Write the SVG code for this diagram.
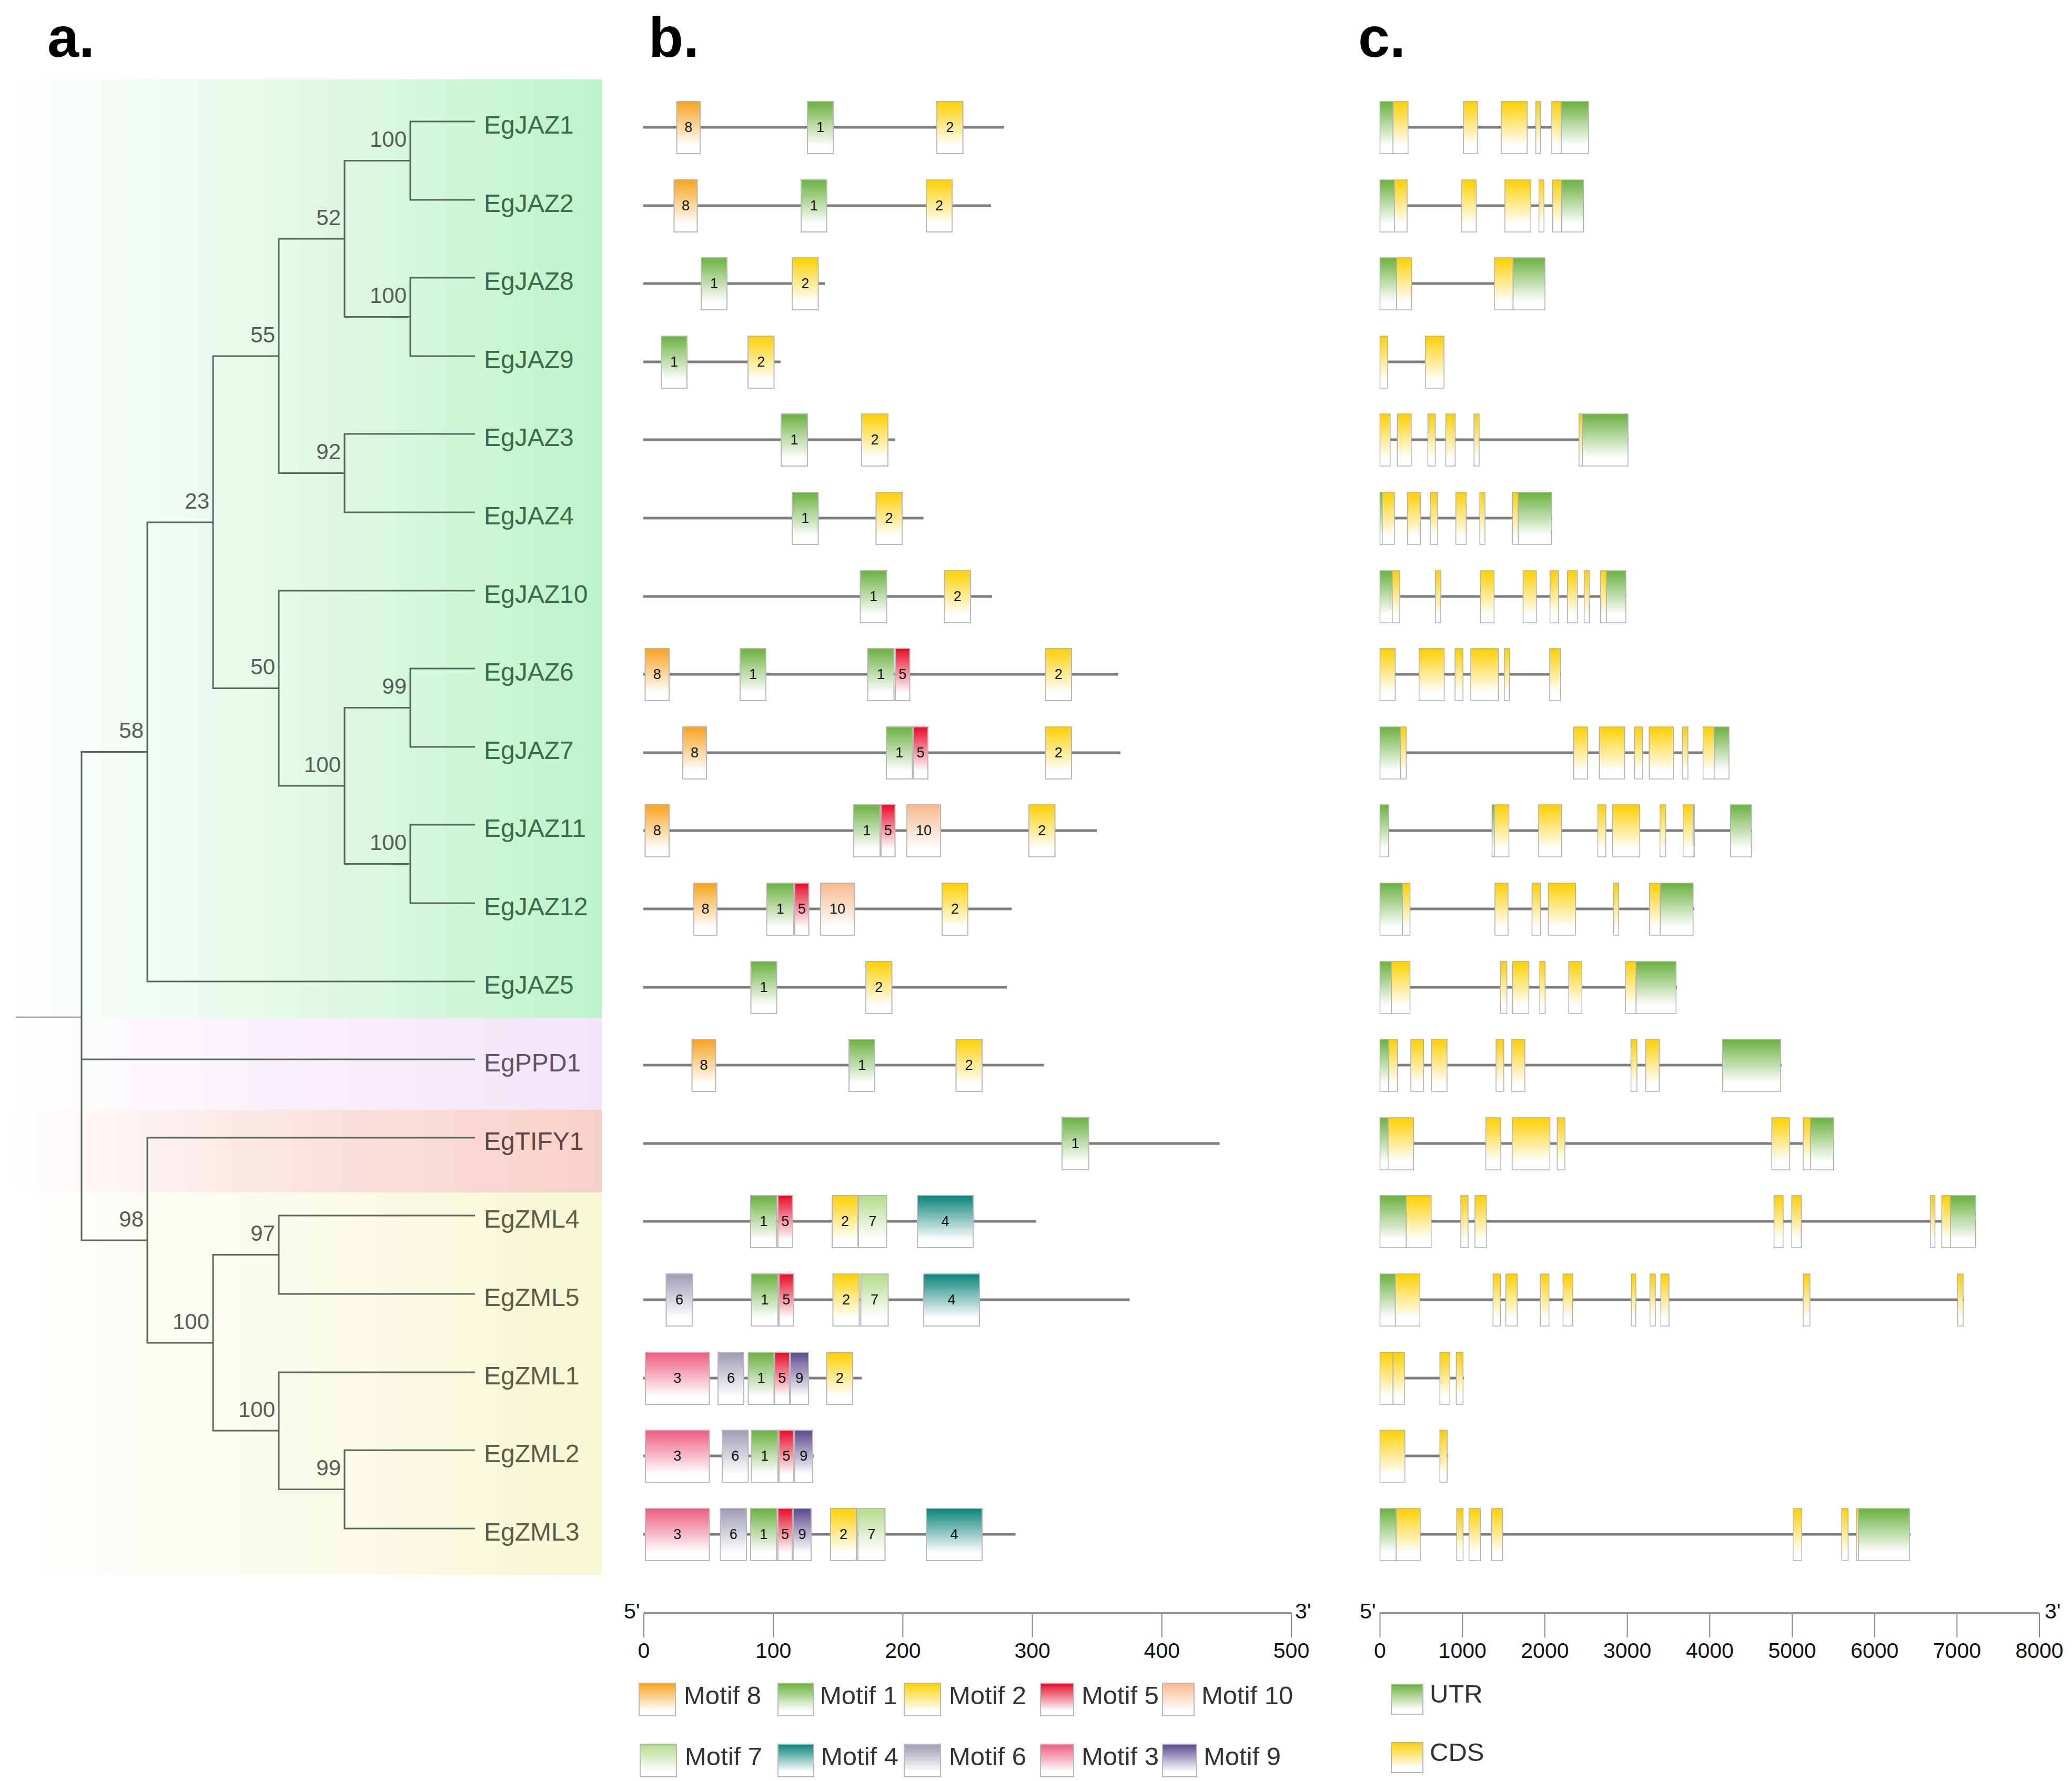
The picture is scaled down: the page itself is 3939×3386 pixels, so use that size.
<svg xmlns="http://www.w3.org/2000/svg" width="3939" height="3386" viewBox="0 0 3939 3386">
<style>
text{font-family:"Liberation Sans",Arial,sans-serif}
.pl{font-size:108px;font-weight:bold;fill:#000}
.lf{font-size:48px}
.gj{fill:#3c6b48}.gp{fill:#5d5468}.gt{fill:#5f4440}.gz{fill:#5d5d45}
.bs{font-size:42px;fill:#555d55;text-anchor:end}
.tr{fill:none;stroke:#56695b;stroke-width:3}
.ln{stroke:#7e7e7e;stroke-width:5}
.mb rect{stroke:#b8b8b8;stroke-width:2}
.gb rect{stroke:#b0b0b0;stroke-width:1.5}
.mt{font-size:27px;fill:#111;text-anchor:middle}
.m1{fill:url(#g1)}.m2{fill:url(#g2)}.m3{fill:url(#g3)}.m4{fill:url(#g4)}.m5{fill:url(#g5)}
.m6{fill:url(#g6)}.m7{fill:url(#g7)}.m8{fill:url(#g8)}.m9{fill:url(#g9)}.m10{fill:url(#g10)}
.u{fill:url(#g1)}.c{fill:url(#g2)}
.ax{stroke:#9a9a9a;stroke-width:4}
.tk{stroke:#888;stroke-width:2}
.tl{font-size:41px;fill:#111;text-anchor:middle}
.en{font-size:41px;fill:#111}
.lg{font-size:49px;fill:#333}
</style>
<defs>
<linearGradient id="g1" x1="0" y1="0" x2="0" y2="1"><stop offset="0" stop-color="#6ab23e"/><stop offset="0.85" stop-color="#fff"/></linearGradient>
<linearGradient id="g2" x1="0" y1="0" x2="0" y2="1"><stop offset="0" stop-color="#ffd000"/><stop offset="0.85" stop-color="#fff"/></linearGradient>
<linearGradient id="g3" x1="0" y1="0" x2="0" y2="1"><stop offset="0" stop-color="#ef5b80"/><stop offset="0.85" stop-color="#fff"/></linearGradient>
<linearGradient id="g4" x1="0" y1="0" x2="0" y2="1"><stop offset="0" stop-color="#08847a"/><stop offset="0.85" stop-color="#fff"/></linearGradient>
<linearGradient id="g5" x1="0" y1="0" x2="0" y2="1"><stop offset="0" stop-color="#ea0a28"/><stop offset="0.85" stop-color="#fff"/></linearGradient>
<linearGradient id="g6" x1="0" y1="0" x2="0" y2="1"><stop offset="0" stop-color="#9d9cb4"/><stop offset="0.85" stop-color="#fff"/></linearGradient>
<linearGradient id="g7" x1="0" y1="0" x2="0" y2="1"><stop offset="0" stop-color="#b5dc8c"/><stop offset="0.85" stop-color="#fff"/></linearGradient>
<linearGradient id="g8" x1="0" y1="0" x2="0" y2="1"><stop offset="0" stop-color="#f8a21c"/><stop offset="0.85" stop-color="#fff"/></linearGradient>
<linearGradient id="g9" x1="0" y1="0" x2="0" y2="1"><stop offset="0" stop-color="#5a4a8e"/><stop offset="0.85" stop-color="#fff"/></linearGradient>
<linearGradient id="g10" x1="0" y1="0" x2="0" y2="1"><stop offset="0" stop-color="#f9b98c"/><stop offset="0.85" stop-color="#fff"/></linearGradient>
<linearGradient id="bgG" x1="0" y1="0" x2="1" y2="0"><stop offset="0" stop-color="#ffffff"/><stop offset="0.5" stop-color="#e3f9e7"/><stop offset="1" stop-color="#bdf4ca"/></linearGradient>
<linearGradient id="bgP" x1="0" y1="0" x2="1" y2="0"><stop offset="0" stop-color="#ffffff"/><stop offset="0.5" stop-color="#f8f0fb"/><stop offset="1" stop-color="#f3e4f9"/></linearGradient>
<linearGradient id="bgR" x1="0" y1="0" x2="1" y2="0"><stop offset="0" stop-color="#ffffff"/><stop offset="0.5" stop-color="#fbe3e0"/><stop offset="1" stop-color="#f8d0ca"/></linearGradient>
<linearGradient id="bgY" x1="0" y1="0" x2="1" y2="0"><stop offset="0" stop-color="#ffffff"/><stop offset="0.5" stop-color="#fafaea"/><stop offset="1" stop-color="#f8f8d3"/></linearGradient>
</defs>
<rect width="3939" height="3386" fill="#fff"/>
<text class="pl" x="90" y="108">a.</text>
<text class="pl" x="1233" y="108">b.</text>
<text class="pl" x="2582" y="108">c.</text>

<g id="clade-bands">
<rect x="12" y="151" width="1132" height="1785" fill="url(#bgG)"/>
<rect x="12" y="1936" width="1132" height="174" fill="url(#bgP)"/>
<rect x="12" y="2110" width="1132" height="157" fill="url(#bgR)"/>
<rect x="12" y="2267" width="1132" height="727" fill="url(#bgY)"/>
</g>

<g id="tree-connectors">
<path class="tr" d="M30,1934 H155" style="stroke:#aaaaaa"/>
<path class="tr" d="M280,1429.5 H155 V2358 H280 M155,2014 H903"/>
<path class="tr" d="M405,993 H280 V1866 H903"/>
<path class="tr" d="M530,677 H405 V1308.5 H530"/>
<path class="tr" d="M655,454 H530 V899.5 H655"/>
<path class="tr" d="M780,305.5 H655 V602.5 H780"/>
<path class="tr" d="M903,231 H780 V380 H903"/>
<path class="tr" d="M903,528 H780 V677 H903"/>
<path class="tr" d="M903,825 H655 V974 H903"/>
<path class="tr" d="M903,1123 H530 V1494 H655"/>
<path class="tr" d="M780,1345.5 H655 V1642.5 H780"/>
<path class="tr" d="M903,1271 H780 V1420 H903"/>
<path class="tr" d="M903,1568 H780 V1717 H903"/>
<path class="tr" d="M903,2163 H280 V2553 H405"/>
<path class="tr" d="M530,2385.5 H405 V2720 H530"/>
<path class="tr" d="M903,2311 H530 V2460 H903"/>
<path class="tr" d="M903,2609 H530 V2831.5 H655"/>
<path class="tr" d="M903,2757 H655 V2906 H903"/>
</g>

<g id="bootstrap">
<text class="bs" x="773" y="279">100</text>
<text class="bs" x="773" y="576">100</text>
<text class="bs" x="648" y="428">52</text>
<text class="bs" x="648" y="873">92</text>
<text class="bs" x="523" y="651">55</text>
<text class="bs" x="773" y="1319">99</text>
<text class="bs" x="773" y="1616">100</text>
<text class="bs" x="648" y="1468">100</text>
<text class="bs" x="523" y="1282">50</text>
<text class="bs" x="398" y="967">23</text>
<text class="bs" x="273" y="1403">58</text>
<text class="bs" x="523" y="2359">97</text>
<text class="bs" x="648" y="2805">99</text>
<text class="bs" x="523" y="2694">100</text>
<text class="bs" x="398" y="2527">100</text>
<text class="bs" x="273" y="2332">98</text>
</g>

<g id="leaf-EgJAZ1"><text class="lf gj" x="920" y="254">EgJAZ1</text></g>
<g id="leaf-EgJAZ2"><text class="lf gj" x="920" y="403">EgJAZ2</text></g>
<g id="leaf-EgJAZ8"><text class="lf gj" x="920" y="551">EgJAZ8</text></g>
<g id="leaf-EgJAZ9"><text class="lf gj" x="920" y="700">EgJAZ9</text></g>
<g id="leaf-EgJAZ3"><text class="lf gj" x="920" y="848">EgJAZ3</text></g>
<g id="leaf-EgJAZ4"><text class="lf gj" x="920" y="997">EgJAZ4</text></g>
<g id="leaf-EgJAZ10"><text class="lf gj" x="920" y="1146">EgJAZ10</text></g>
<g id="leaf-EgJAZ6"><text class="lf gj" x="920" y="1294">EgJAZ6</text></g>
<g id="leaf-EgJAZ7"><text class="lf gj" x="920" y="1443">EgJAZ7</text></g>
<g id="leaf-EgJAZ11"><text class="lf gj" x="920" y="1591">EgJAZ11</text></g>
<g id="leaf-EgJAZ12"><text class="lf gj" x="920" y="1740">EgJAZ12</text></g>
<g id="leaf-EgJAZ5"><text class="lf gj" x="920" y="1889">EgJAZ5</text></g>
<g id="leaf-EgPPD1"><text class="lf gp" x="920" y="2037">EgPPD1</text></g>
<g id="leaf-EgTIFY1"><text class="lf gt" x="920" y="2186">EgTIFY1</text></g>
<g id="leaf-EgZML4"><text class="lf gz" x="920" y="2334">EgZML4</text></g>
<g id="leaf-EgZML5"><text class="lf gz" x="920" y="2483">EgZML5</text></g>
<g id="leaf-EgZML1"><text class="lf gz" x="920" y="2632">EgZML1</text></g>
<g id="leaf-EgZML2"><text class="lf gz" x="920" y="2780">EgZML2</text></g>
<g id="leaf-EgZML3"><text class="lf gz" x="920" y="2929">EgZML3</text></g>

<!-- Panel b: motifs -->
<g id="motifs-EgJAZ1" class="mb" transform="translate(0,242)">
<line class="ln" x1="1223" y1="0" x2="1908" y2="0"/>
<rect class="m8" x="1286.5" y="-49" width="44.5" height="99"/><text class="mt" x="1308.8" y="9">8</text>
<rect class="m1" x="1535" y="-49" width="49" height="99"/><text class="mt" x="1559.5" y="9">1</text>
<rect class="m2" x="1781" y="-49" width="49.5" height="99"/><text class="mt" x="1805.8" y="9">2</text>
</g>
<g id="motifs-EgJAZ2" class="mb" transform="translate(0,391)">
<line class="ln" x1="1223" y1="0" x2="1884" y2="0"/>
<rect class="m8" x="1281.5" y="-49" width="44" height="99"/><text class="mt" x="1303.5" y="9">8</text>
<rect class="m1" x="1523" y="-49" width="48.5" height="99"/><text class="mt" x="1547.3" y="9">1</text>
<rect class="m2" x="1761" y="-49" width="49" height="99"/><text class="mt" x="1785.5" y="9">2</text>
</g>
<g id="motifs-EgJAZ8" class="mb" transform="translate(0,539)">
<line class="ln" x1="1223" y1="0" x2="1568" y2="0"/>
<rect class="m1" x="1333" y="-49" width="49" height="99"/><text class="mt" x="1357.5" y="9">1</text>
<rect class="m2" x="1506" y="-49" width="49.5" height="99"/><text class="mt" x="1530.8" y="9">2</text>
</g>
<g id="motifs-EgJAZ9" class="mb" transform="translate(0,688)">
<line class="ln" x1="1223" y1="0" x2="1484" y2="0"/>
<rect class="m1" x="1257" y="-49" width="49" height="99"/><text class="mt" x="1281.5" y="9">1</text>
<rect class="m2" x="1422" y="-49" width="49.5" height="99"/><text class="mt" x="1446.8" y="9">2</text>
</g>
<g id="motifs-EgJAZ3" class="mb" transform="translate(0,836)">
<line class="ln" x1="1223" y1="0" x2="1701.5" y2="0"/>
<rect class="m1" x="1485" y="-49" width="50" height="99"/><text class="mt" x="1510" y="9">1</text>
<rect class="m2" x="1638" y="-49" width="50" height="99"/><text class="mt" x="1663" y="9">2</text>
</g>
<g id="motifs-EgJAZ4" class="mb" transform="translate(0,985)">
<line class="ln" x1="1223" y1="0" x2="1755.5" y2="0"/>
<rect class="m1" x="1506" y="-49" width="49.5" height="99"/><text class="mt" x="1530.8" y="9">1</text>
<rect class="m2" x="1665.5" y="-49" width="49.5" height="99"/><text class="mt" x="1690.3" y="9">2</text>
</g>
<g id="motifs-EgJAZ10" class="mb" transform="translate(0,1134)">
<line class="ln" x1="1223" y1="0" x2="1886" y2="0"/>
<rect class="m1" x="1635.5" y="-49" width="50" height="99"/><text class="mt" x="1660.5" y="9">1</text>
<rect class="m2" x="1795.5" y="-49" width="49.5" height="99"/><text class="mt" x="1820.3" y="9">2</text>
</g>
<g id="motifs-EgJAZ6" class="mb" transform="translate(0,1282)">
<line class="ln" x1="1223" y1="0" x2="2125" y2="0"/>
<rect class="m8" x="1226.5" y="-49" width="45.5" height="99"/><text class="mt" x="1249.3" y="9">8</text>
<rect class="m1" x="1407" y="-49" width="49" height="99"/><text class="mt" x="1431.5" y="9">1</text>
<rect class="m1" x="1649.5" y="-49" width="50" height="99"/><text class="mt" x="1674.5" y="9">1</text>
<rect class="m5" x="1702" y="-49" width="27.5" height="99"/><text class="mt" x="1715.8" y="9">5</text>
<rect class="m2" x="1987.5" y="-49" width="49.5" height="99"/><text class="mt" x="2012.3" y="9">2</text>
</g>
<g id="motifs-EgJAZ7" class="mb" transform="translate(0,1431)">
<line class="ln" x1="1223" y1="0" x2="2130" y2="0"/>
<rect class="m8" x="1298" y="-49" width="45" height="99"/><text class="mt" x="1320.5" y="9">8</text>
<rect class="m1" x="1685" y="-49" width="49.5" height="99"/><text class="mt" x="1709.8" y="9">1</text>
<rect class="m5" x="1736" y="-49" width="28" height="99"/><text class="mt" x="1750" y="9">5</text>
<rect class="m2" x="1987.5" y="-49" width="49.5" height="99"/><text class="mt" x="2012.3" y="9">2</text>
</g>
<g id="motifs-EgJAZ11" class="mb" transform="translate(0,1579)">
<line class="ln" x1="1223" y1="0" x2="2085" y2="0"/>
<rect class="m8" x="1226.5" y="-49" width="45.5" height="99"/><text class="mt" x="1249.3" y="9">8</text>
<rect class="m1" x="1623" y="-49" width="50" height="99"/><text class="mt" x="1648" y="9">1</text>
<rect class="m5" x="1675" y="-49" width="26.5" height="99"/><text class="mt" x="1688.3" y="9">5</text>
<rect class="m10" x="1724" y="-49" width="64" height="99"/><text class="mt" x="1756" y="9">10</text>
<rect class="m2" x="1956" y="-49" width="49.5" height="99"/><text class="mt" x="1980.8" y="9">2</text>
</g>
<g id="motifs-EgJAZ12" class="mb" transform="translate(0,1728)">
<line class="ln" x1="1223" y1="0" x2="1923.5" y2="0"/>
<rect class="m8" x="1319" y="-49" width="44" height="99"/><text class="mt" x="1341" y="9">8</text>
<rect class="m1" x="1457.5" y="-49" width="51.5" height="99"/><text class="mt" x="1483.3" y="9">1</text>
<rect class="m5" x="1511" y="-49" width="26.5" height="99"/><text class="mt" x="1524.3" y="9">5</text>
<rect class="m10" x="1560" y="-49" width="64" height="99"/><text class="mt" x="1592" y="9">10</text>
<rect class="m2" x="1791" y="-49" width="49" height="99"/><text class="mt" x="1815.5" y="9">2</text>
</g>
<g id="motifs-EgJAZ5" class="mb" transform="translate(0,1877)">
<line class="ln" x1="1223" y1="0" x2="1914" y2="0"/>
<rect class="m1" x="1427.5" y="-49" width="49" height="99"/><text class="mt" x="1452" y="9">1</text>
<rect class="m2" x="1646" y="-49" width="49.5" height="99"/><text class="mt" x="1670.8" y="9">2</text>
</g>
<g id="motifs-EgPPD1" class="mb" transform="translate(0,2025)">
<line class="ln" x1="1223" y1="0" x2="1984.5" y2="0"/>
<rect class="m8" x="1315.5" y="-49" width="45" height="99"/><text class="mt" x="1338" y="9">8</text>
<rect class="m1" x="1614" y="-49" width="49" height="99"/><text class="mt" x="1638.5" y="9">1</text>
<rect class="m2" x="1817.5" y="-49" width="49.5" height="99"/><text class="mt" x="1842.3" y="9">2</text>
</g>
<g id="motifs-EgTIFY1" class="mb" transform="translate(0,2174)">
<line class="ln" x1="1223" y1="0" x2="2318.5" y2="0"/>
<rect class="m1" x="2019" y="-49" width="50.5" height="99"/><text class="mt" x="2044.3" y="9">1</text>
</g>
<g id="motifs-EgZML4" class="mb" transform="translate(0,2322)">
<line class="ln" x1="1223" y1="0" x2="1969.5" y2="0"/>
<rect class="m1" x="1427" y="-49" width="49.5" height="99"/><text class="mt" x="1451.8" y="9">1</text>
<rect class="m5" x="1479" y="-49" width="27.5" height="99"/><text class="mt" x="1492.8" y="9">5</text>
<rect class="m2" x="1582" y="-49" width="49" height="99"/><text class="mt" x="1606.5" y="9">2</text>
<rect class="m7" x="1632" y="-49" width="53.5" height="99"/><text class="mt" x="1658.8" y="9">7</text>
<rect class="m4" x="1744" y="-49" width="106" height="99"/><text class="mt" x="1797" y="9">4</text>
</g>
<g id="motifs-EgZML5" class="mb" transform="translate(0,2471)">
<line class="ln" x1="1223" y1="0" x2="2147.5" y2="0"/>
<rect class="m6" x="1266.5" y="-49" width="50" height="99"/><text class="mt" x="1291.5" y="9">6</text>
<rect class="m1" x="1428.5" y="-49" width="50.5" height="99"/><text class="mt" x="1453.8" y="9">1</text>
<rect class="m5" x="1481" y="-49" width="27.5" height="99"/><text class="mt" x="1494.8" y="9">5</text>
<rect class="m2" x="1583.5" y="-49" width="50" height="99"/><text class="mt" x="1608.5" y="9">2</text>
<rect class="m7" x="1636.5" y="-49" width="52" height="99"/><text class="mt" x="1662.5" y="9">7</text>
<rect class="m4" x="1756" y="-49" width="106" height="99"/><text class="mt" x="1809" y="9">4</text>
</g>
<g id="motifs-EgZML1" class="mb" transform="translate(0,2620)">
<line class="ln" x1="1223" y1="0" x2="1638" y2="0"/>
<rect class="m3" x="1227" y="-49" width="121.5" height="99"/><text class="mt" x="1287.8" y="9">3</text>
<rect class="m6" x="1365" y="-49" width="49" height="99"/><text class="mt" x="1389.5" y="9">6</text>
<rect class="m1" x="1422.5" y="-49" width="49" height="99"/><text class="mt" x="1447" y="9">1</text>
<rect class="m5" x="1472.5" y="-49" width="28.5" height="99"/><text class="mt" x="1486.8" y="9">5</text>
<rect class="m9" x="1502.5" y="-49" width="34.5" height="99"/><text class="mt" x="1519.8" y="9">9</text>
<rect class="m2" x="1571.5" y="-49" width="49.5" height="99"/><text class="mt" x="1596.3" y="9">2</text>
</g>
<g id="motifs-EgZML2" class="mb" transform="translate(0,2768)">
<line class="ln" x1="1223" y1="0" x2="1547" y2="0"/>
<rect class="m3" x="1227" y="-49" width="121.5" height="99"/><text class="mt" x="1287.8" y="9">3</text>
<rect class="m6" x="1373" y="-49" width="49.5" height="99"/><text class="mt" x="1397.8" y="9">6</text>
<rect class="m1" x="1428.5" y="-49" width="50.5" height="99"/><text class="mt" x="1453.8" y="9">1</text>
<rect class="m5" x="1481" y="-49" width="27.5" height="99"/><text class="mt" x="1494.8" y="9">5</text>
<rect class="m9" x="1510.5" y="-49" width="34.5" height="99"/><text class="mt" x="1527.8" y="9">9</text>
</g>
<g id="motifs-EgZML3" class="mb" transform="translate(0,2917)">
<line class="ln" x1="1223" y1="0" x2="1930.5" y2="0"/>
<rect class="m3" x="1227" y="-49" width="121.5" height="99"/><text class="mt" x="1287.8" y="9">3</text>
<rect class="m6" x="1369.5" y="-49" width="49.5" height="99"/><text class="mt" x="1394.3" y="9">6</text>
<rect class="m1" x="1427" y="-49" width="49.5" height="99"/><text class="mt" x="1451.8" y="9">1</text>
<rect class="m5" x="1479" y="-49" width="27" height="99"/><text class="mt" x="1492.5" y="9">5</text>
<rect class="m9" x="1508" y="-49" width="34" height="99"/><text class="mt" x="1525" y="9">9</text>
<rect class="m2" x="1579" y="-49" width="49" height="99"/><text class="mt" x="1603.5" y="9">2</text>
<rect class="m7" x="1631" y="-49" width="51.5" height="99"/><text class="mt" x="1656.8" y="9">7</text>
<rect class="m4" x="1761" y="-49" width="106" height="99"/><text class="mt" x="1814" y="9">4</text>
</g>

<!-- Panel b axis and legend -->
<g id="axis-b">
<line class="ax" x1="1224" y1="3067" x2="2455" y2="3067"/>
<line class="tk" x1="1224" y1="3067" x2="1224" y2="3113"/>
<line class="tk" x1="1470.2" y1="3067" x2="1470.2" y2="3113"/>
<line class="tk" x1="1716.4" y1="3067" x2="1716.4" y2="3113"/>
<line class="tk" x1="1962.6" y1="3067" x2="1962.6" y2="3113"/>
<line class="tk" x1="2208.8" y1="3067" x2="2208.8" y2="3113"/>
<line class="tk" x1="2455" y1="3067" x2="2455" y2="3113"/>
<text class="tl" x="1224" y="3152">0</text>
<text class="tl" x="1470.2" y="3152">100</text>
<text class="tl" x="1716.4" y="3152">200</text>
<text class="tl" x="1962.6" y="3152">300</text>
<text class="tl" x="2208.8" y="3152">400</text>
<text class="tl" x="2455" y="3152">500</text>
<text class="en" x="1186" y="3077">5'</text>
<text class="en" x="2462" y="3077">3'</text>
</g>
<g id="legend-b" class="mb">
<rect class="m8" x="1215" y="3200" width="69" height="62"/><text class="lg" x="1300" y="3240">Motif 8</text>
<rect class="m1" x="1479" y="3200" width="67" height="62"/><text class="lg" x="1559" y="3240">Motif 1</text>
<rect class="m2" x="1719" y="3200" width="69" height="62"/><text class="lg" x="1804" y="3240">Motif 2</text>
<rect class="m5" x="1978" y="3200" width="63" height="62"/><text class="lg" x="2056" y="3240">Motif 5</text>
<rect class="m10" x="2210" y="3200" width="60" height="62"/><text class="lg" x="2284" y="3240">Motif 10</text>
<rect class="m7" x="1217" y="3316" width="69" height="62"/><text class="lg" x="1302" y="3356">Motif 7</text>
<rect class="m4" x="1479" y="3316" width="68" height="62"/><text class="lg" x="1561" y="3356">Motif 4</text>
<rect class="m6" x="1719" y="3316" width="69" height="62"/><text class="lg" x="1804" y="3356">Motif 6</text>
<rect class="m3" x="1978" y="3316" width="63" height="62"/><text class="lg" x="2056" y="3356">Motif 3</text>
<rect class="m9" x="2210" y="3316" width="65" height="62"/><text class="lg" x="2288" y="3356">Motif 9</text>
</g>

<!-- Panel c: gene structures -->
<g id="gene-EgJAZ1" class="gb" transform="translate(0,242)">
<line class="ln" x1="2623.5" y1="0" x2="3020" y2="0"/>
<rect class="u" x="2623.5" y="-49" width="24.8" height="99"/><rect class="c" x="2648.3" y="-49" width="28.5" height="99"/><rect class="c" x="2782.2" y="-49" width="26.8" height="99"/><rect class="c" x="2854" y="-49" width="49.2" height="99"/><rect class="c" x="2919.7" y="-49" width="8.6" height="99"/><rect class="c" x="2949.9" y="-49" width="18.2" height="99"/><rect class="u" x="2968.1" y="-49" width="51.8" height="99"/>
</g>
<g id="gene-EgJAZ2" class="gb" transform="translate(0,391)">
<line class="ln" x1="2623.5" y1="0" x2="3011" y2="0"/>
<rect class="u" x="2623.5" y="-49" width="27.4" height="99"/><rect class="c" x="2650.9" y="-49" width="24.2" height="99"/><rect class="c" x="2778.8" y="-49" width="27.6" height="99"/><rect class="c" x="2860.9" y="-49" width="49.3" height="99"/><rect class="c" x="2925.7" y="-49" width="9.5" height="99"/><rect class="c" x="2951.6" y="-49" width="17.3" height="99"/><rect class="u" x="2968.9" y="-49" width="41.5" height="99"/>
</g>
<g id="gene-EgJAZ8" class="gb" transform="translate(0,539)">
<line class="ln" x1="2623.5" y1="0" x2="2938" y2="0"/>
<rect class="u" x="2623.5" y="-49" width="31.7" height="99"/><rect class="c" x="2655.2" y="-49" width="28.5" height="99"/><rect class="c" x="2841" y="-49" width="35.5" height="99"/><rect class="u" x="2876.5" y="-49" width="60.5" height="99"/>
</g>
<g id="gene-EgJAZ9" class="gb" transform="translate(0,688)">
<line class="ln" x1="2623.5" y1="0" x2="2746" y2="0"/>
<rect class="c" x="2623.5" y="-49" width="14.4" height="99"/><rect class="c" x="2709.6" y="-49" width="35.5" height="99"/>
</g>
<g id="gene-EgJAZ3" class="gb" transform="translate(0,836)">
<line class="ln" x1="2623.5" y1="0" x2="3096" y2="0"/>
<rect class="c" x="2623.5" y="-49" width="19.3" height="99"/><rect class="c" x="2656.4" y="-49" width="26.5" height="99"/><rect class="c" x="2714.4" y="-49" width="14.1" height="99"/><rect class="c" x="2748.5" y="-49" width="17.9" height="99"/><rect class="c" x="2802.2" y="-49" width="9.7" height="99"/><rect class="c" x="3001.7" y="-49" width="6.5" height="99"/><rect class="u" x="3008.2" y="-49" width="86.7" height="99"/>
</g>
<g id="gene-EgJAZ4" class="gb" transform="translate(0,985)">
<line class="ln" x1="2623.5" y1="0" x2="2951" y2="0"/>
<rect class="u" x="2623.5" y="-49" width="4.3" height="99"/><rect class="c" x="2627.8" y="-49" width="23.2" height="99"/><rect class="c" x="2675.5" y="-49" width="25" height="99"/><rect class="c" x="2719" y="-49" width="14" height="99"/><rect class="c" x="2767.7" y="-49" width="19.5" height="99"/><rect class="c" x="2813.2" y="-49" width="9.8" height="99"/><rect class="c" x="2875.6" y="-49" width="10.8" height="99"/><rect class="u" x="2886.4" y="-49" width="63.4" height="99"/>
</g>
<g id="gene-EgJAZ10" class="gb" transform="translate(0,1134)">
<line class="ln" x1="2623.5" y1="0" x2="3092" y2="0"/>
<rect class="u" x="2623.5" y="-49" width="23.3" height="99"/><rect class="c" x="2646.8" y="-49" width="14.2" height="99"/><rect class="c" x="2728.7" y="-49" width="10.3" height="99"/><rect class="c" x="2814.3" y="-49" width="26" height="99"/><rect class="c" x="2895.6" y="-49" width="25" height="99"/><rect class="c" x="2946.6" y="-49" width="16.2" height="99"/><rect class="c" x="2979.6" y="-49" width="19" height="99"/><rect class="c" x="3011.6" y="-49" width="9.8" height="99"/><rect class="c" x="3042.5" y="-49" width="11.5" height="99"/><rect class="u" x="3054" y="-49" width="36.8" height="99"/>
</g>
<g id="gene-EgJAZ6" class="gb" transform="translate(0,1282)">
<line class="ln" x1="2623.5" y1="0" x2="2968" y2="0"/>
<rect class="c" x="2623.5" y="-49" width="28.7" height="99"/><rect class="c" x="2697.7" y="-49" width="47.8" height="99"/><rect class="c" x="2766.1" y="-49" width="15.1" height="99"/><rect class="c" x="2796" y="-49" width="52.5" height="99"/><rect class="c" x="2859.8" y="-49" width="9.8" height="99"/><rect class="c" x="2946" y="-49" width="20.6" height="99"/>
</g>
<g id="gene-EgJAZ7" class="gb" transform="translate(0,1431)">
<line class="ln" x1="2623.5" y1="0" x2="3287" y2="0"/>
<rect class="u" x="2623.5" y="-49" width="39" height="99"/><rect class="c" x="2662.5" y="-49" width="10.9" height="99"/><rect class="c" x="2991.6" y="-49" width="26.5" height="99"/><rect class="c" x="3040.4" y="-49" width="48.2" height="99"/><rect class="c" x="3107.6" y="-49" width="15.2" height="99"/><rect class="c" x="3135.2" y="-49" width="46.1" height="99"/><rect class="c" x="3198.1" y="-49" width="10.8" height="99"/><rect class="c" x="3237.7" y="-49" width="21.1" height="99"/><rect class="u" x="3258.8" y="-49" width="28.2" height="99"/>
</g>
<g id="gene-EgJAZ11" class="gb" transform="translate(0,1579)">
<line class="ln" x1="2623.5" y1="0" x2="3331" y2="0"/>
<rect class="u" x="2623.5" y="-49" width="16.2" height="99"/><rect class="u" x="2836.5" y="-49" width="4.4" height="99"/><rect class="c" x="2840.9" y="-49" width="27.6" height="99"/><rect class="c" x="2924.9" y="-49" width="43.9" height="99"/><rect class="c" x="3037.6" y="-49" width="15.2" height="99"/><rect class="c" x="3065.8" y="-49" width="51.5" height="99"/><rect class="c" x="3155.8" y="-49" width="10.9" height="99"/><rect class="c" x="3199.7" y="-49" width="19" height="99"/><rect class="u" x="3218.7" y="-49" width="2.3" height="99"/><rect class="u" x="3289.7" y="-49" width="39.6" height="99"/>
</g>
<g id="gene-EgJAZ12" class="gb" transform="translate(0,1728)">
<line class="ln" x1="2623.5" y1="0" x2="3221" y2="0"/>
<rect class="u" x="2623.5" y="-49" width="42.8" height="99"/><rect class="c" x="2666.3" y="-49" width="14.1" height="99"/><rect class="c" x="2841.9" y="-49" width="25" height="99"/><rect class="c" x="2912.4" y="-49" width="16.3" height="99"/><rect class="c" x="2943.3" y="-49" width="52.1" height="99"/><rect class="c" x="3067.5" y="-49" width="9.7" height="99"/><rect class="c" x="3135.8" y="-49" width="20.6" height="99"/><rect class="u" x="3156.4" y="-49" width="62.3" height="99"/>
</g>
<g id="gene-EgJAZ5" class="gb" transform="translate(0,1877)">
<line class="ln" x1="2623.5" y1="0" x2="3188" y2="0"/>
<rect class="u" x="2623.5" y="-49" width="21.7" height="99"/><rect class="c" x="2645.2" y="-49" width="35.2" height="99"/><rect class="c" x="2852.2" y="-49" width="12.5" height="99"/><rect class="c" x="2875.6" y="-49" width="30.9" height="99"/><rect class="c" x="2927.1" y="-49" width="10.3" height="99"/><rect class="c" x="2982.3" y="-49" width="25" height="99"/><rect class="c" x="3090.2" y="-49" width="20.1" height="99"/><rect class="u" x="3110.3" y="-49" width="75.9" height="99"/>
</g>
<g id="gene-EgPPD1" class="gb" transform="translate(0,2025)">
<line class="ln" x1="2623.5" y1="0" x2="3387" y2="0"/>
<rect class="u" x="2623.5" y="-49" width="16.2" height="99"/><rect class="c" x="2639.7" y="-49" width="16.9" height="99"/><rect class="c" x="2682" y="-49" width="24.4" height="99"/><rect class="c" x="2721.6" y="-49" width="29.3" height="99"/><rect class="c" x="2844.1" y="-49" width="14.7" height="99"/><rect class="c" x="2873.9" y="-49" width="25" height="99"/><rect class="c" x="3100.5" y="-49" width="11.4" height="99"/><rect class="c" x="3128.7" y="-49" width="25.5" height="99"/><rect class="u" x="3274.5" y="-49" width="110.6" height="99"/>
</g>
<g id="gene-EgTIFY1" class="gb" transform="translate(0,2174)">
<line class="ln" x1="2623.5" y1="0" x2="3487" y2="0"/>
<rect class="u" x="2623.5" y="-49" width="15.3" height="99"/><rect class="c" x="2638.8" y="-49" width="48.4" height="99"/><rect class="c" x="2824.6" y="-49" width="28.5" height="99"/><rect class="c" x="2874.7" y="-49" width="71.8" height="99"/><rect class="c" x="2960.3" y="-49" width="14.7" height="99"/><rect class="c" x="3368.2" y="-49" width="33.8" height="99"/><rect class="c" x="3427.9" y="-49" width="13.8" height="99"/><rect class="u" x="3441.7" y="-49" width="44.1" height="99"/>
</g>
<g id="gene-EgZML4" class="gb" transform="translate(0,2322)">
<line class="ln" x1="2623.5" y1="0" x2="3757" y2="0"/>
<rect class="u" x="2623.5" y="-49" width="49.8" height="99"/><rect class="c" x="2673.3" y="-49" width="47.6" height="99"/><rect class="c" x="2777.1" y="-49" width="13.8" height="99"/><rect class="c" x="2803.9" y="-49" width="21.6" height="99"/><rect class="c" x="3372.5" y="-49" width="17.3" height="99"/><rect class="c" x="3406.3" y="-49" width="18.1" height="99"/><rect class="c" x="3669.9" y="-49" width="8.6" height="99"/><rect class="c" x="3691.5" y="-49" width="16.4" height="99"/><rect class="u" x="3707.9" y="-49" width="47.5" height="99"/>
</g>
<g id="gene-EgZML5" class="gb" transform="translate(0,2471)">
<line class="ln" x1="2623.5" y1="0" x2="3734" y2="0"/>
<rect class="u" x="2623.5" y="-49" width="29.1" height="99"/><rect class="c" x="2652.6" y="-49" width="46.7" height="99"/><rect class="c" x="2838.4" y="-49" width="13.9" height="99"/><rect class="c" x="2862.6" y="-49" width="21.6" height="99"/><rect class="c" x="2928.3" y="-49" width="16.4" height="99"/><rect class="c" x="2971.5" y="-49" width="18.2" height="99"/><rect class="c" x="3101.2" y="-49" width="8.6" height="99"/><rect class="c" x="3136.6" y="-49" width="10.4" height="99"/><rect class="c" x="3157.4" y="-49" width="15.5" height="99"/><rect class="c" x="3427.9" y="-49" width="12.9" height="99"/><rect class="c" x="3721.7" y="-49" width="10.4" height="99"/>
</g>
<g id="gene-EgZML1" class="gb" transform="translate(0,2620)">
<line class="ln" x1="2623.5" y1="0" x2="2783" y2="0"/>
<rect class="c" x="2623.5" y="-49" width="24.8" height="99"/><rect class="c" x="2648.3" y="-49" width="21.6" height="99"/><rect class="c" x="2737.3" y="-49" width="19" height="99"/><rect class="c" x="2768.4" y="-49" width="13" height="99"/>
</g>
<g id="gene-EgZML2" class="gb" transform="translate(0,2768)">
<line class="ln" x1="2623.5" y1="0" x2="2753" y2="0"/>
<rect class="c" x="2623.5" y="-49" width="47.3" height="99"/><rect class="c" x="2737.3" y="-49" width="13.8" height="99"/>
</g>
<g id="gene-EgZML3" class="gb" transform="translate(0,2917)">
<line class="ln" x1="2623.5" y1="0" x2="3632" y2="0"/>
<rect class="u" x="2623.5" y="-49" width="30.8" height="99"/><rect class="c" x="2654.3" y="-49" width="45.8" height="99"/><rect class="c" x="2769.3" y="-49" width="12.1" height="99"/><rect class="c" x="2792.6" y="-49" width="21.6" height="99"/><rect class="c" x="2835.8" y="-49" width="20.8" height="99"/><rect class="c" x="3408.9" y="-49" width="16.4" height="99"/><rect class="c" x="3501.3" y="-49" width="12.1" height="99"/><rect class="c" x="3529" y="-49" width="4.3" height="99"/><rect class="u" x="3533.3" y="-49" width="96.8" height="99"/>
</g>

<!-- Panel c axis and legend -->
<g id="axis-c">
<line class="ax" x1="2623.5" y1="3067" x2="3877" y2="3067"/>
<line class="tk" x1="2623.5" y1="3067" x2="2623.5" y2="3113"/>
<line class="tk" x1="2780.2" y1="3067" x2="2780.2" y2="3113"/>
<line class="tk" x1="2936.9" y1="3067" x2="2936.9" y2="3113"/>
<line class="tk" x1="3093.6" y1="3067" x2="3093.6" y2="3113"/>
<line class="tk" x1="3250.3" y1="3067" x2="3250.3" y2="3113"/>
<line class="tk" x1="3407" y1="3067" x2="3407" y2="3113"/>
<line class="tk" x1="3563.7" y1="3067" x2="3563.7" y2="3113"/>
<line class="tk" x1="3720.4" y1="3067" x2="3720.4" y2="3113"/>
<line class="tk" x1="3877" y1="3067" x2="3877" y2="3113"/>
<text class="tl" x="2623.5" y="3152">0</text>
<text class="tl" x="2780.2" y="3152">1000</text>
<text class="tl" x="2936.9" y="3152">2000</text>
<text class="tl" x="3093.6" y="3152">3000</text>
<text class="tl" x="3250.3" y="3152">4000</text>
<text class="tl" x="3407" y="3152">5000</text>
<text class="tl" x="3563.7" y="3152">6000</text>
<text class="tl" x="3720.4" y="3152">7000</text>
<text class="tl" x="3877" y="3152">8000</text>
<text class="en" x="2585" y="3077">5'</text>
<text class="en" x="3887" y="3077">3'</text>
</g>
<g id="legend-c" class="mb">
<rect class="u" x="2645" y="3202" width="60" height="57"/><text class="lg" x="2718" y="3237">UTR</text>
<rect class="c" x="2645" y="3313" width="60" height="57"/><text class="lg" x="2718" y="3348">CDS</text>
</g>
</svg>
